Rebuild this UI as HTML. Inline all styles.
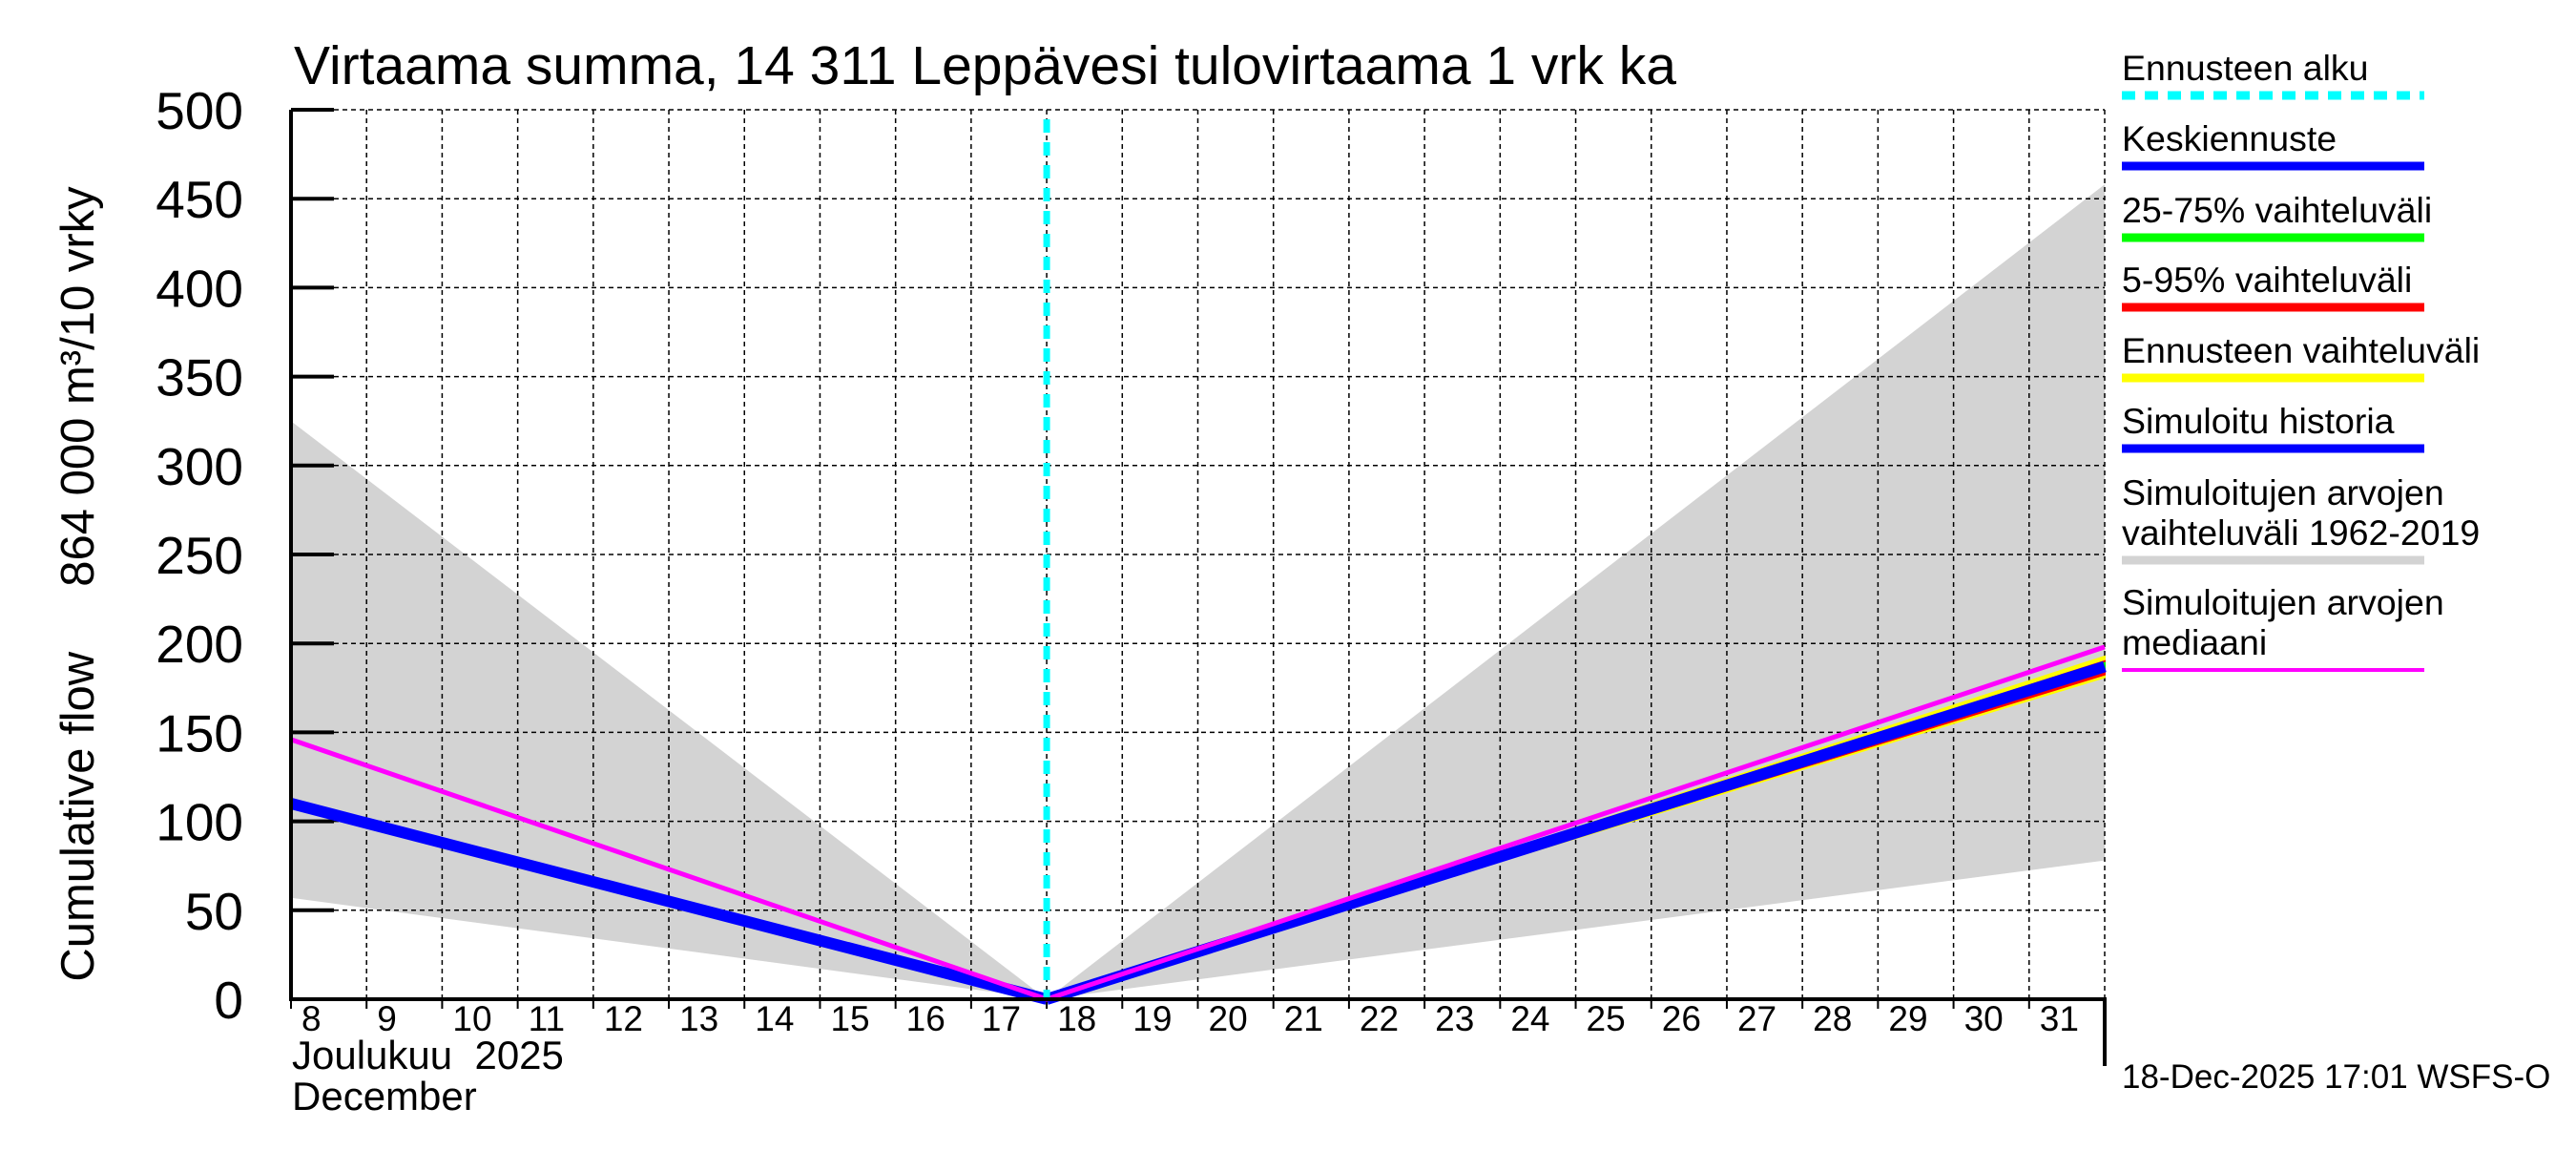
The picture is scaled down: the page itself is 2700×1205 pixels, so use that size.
<!DOCTYPE html>
<html><head><meta charset="utf-8"><style>
body{margin:0;background:#fff;}
svg text{font-family:"Liberation Sans",sans-serif;fill:#000;}
</style></head><body>
<svg id="chart" xmlns="http://www.w3.org/2000/svg" width="2700" height="1200" viewBox="0 0 2700 1200">
<rect width="2700" height="1200" fill="#fff"/>
<text x="308" y="88" font-size="57">Virtaama summa, 14 311 Leppävesi tulovirtaama 1 vrk ka</text>
<g id="plot"></g>
<text transform="translate(98,612) rotate(-90)" text-anchor="middle" font-size="49" xml:space="preserve">Cumulative flow     864 000 m³/10 vrky</text>
<text x="306" y="1120" font-size="42" xml:space="preserve">Joulukuu  2025</text>
<text x="306" y="1163" font-size="42">December</text>
<text x="2224" y="1140" font-size="35">18-Dec-2025 17:01 WSFS-O</text>
<g id="legend"></g>
</svg>
<script>
const days = [8, 18, 32];
const histDays = [8, 18];
const histValues = [110, 0];
const fcDays = [18, 32];
const fcMedian = [0, 187];
const fcP25 = [0, 185];
const fcP75 = [0, 189];
const fcP5 = [0, 182.5];
const fcP95 = [0, 190];
const fcMin = [0, 181];
const fcMax = [0, 192.6];
const simMin = [57, 0, 78];
const simMax = [325, 0, 458];
const simMedian = [146, 0, 198];
const yTicks = [0, 50, 100, 150, 200, 250, 300, 350, 400, 450, 500];
const xTickDays = [8,9,10,11,12,13,14,15,16,17,18,19,20,21,22,23,24,25,26,27,28,29,30,31];
const forecastStart = 18;

const NS = "http://www.w3.org/2000/svg";
const X0 = 305, X1 = 2206, Y0 = 1047, Y1 = 115;
const xs = d => X0 + (d - 8) / 24 * (X1 - X0);
const ys = v => Y0 - v / 500 * (Y0 - Y1);
const plot = document.getElementById('plot');
function mk(tag, attrs, parent) {
  const e = document.createElementNS(NS, tag);
  for (const k in attrs) e.setAttribute(k, attrs[k]);
  (parent || plot).appendChild(e);
  return e;
}
function pts(ds, vs) { return ds.map((d, i) => xs(d) + ',' + ys(vs[i])).join(' '); }

let band = mk('polygon', {points: pts(days, simMax) + ' ' + pts(days.slice().reverse(), simMin.slice().reverse()), fill: '#d3d3d3'});



yTicks.forEach(v => {
  const g = mk('line', {x1: X0, x2: X1, y1: ys(v), y2: ys(v), stroke: '#000', 'stroke-width': 1.5, 'stroke-dasharray': '5,4'});
  
  
  const t = mk('line', {x1: X0, x2: X0 + 45, y1: ys(v), y2: ys(v), stroke: '#000', 'stroke-width': 4});
  
  
  const l = mk('text', {x: 255, y: ys(v) + 20, 'text-anchor': 'end', 'font-size': 55});
  l.textContent = v;
  
  
});
xTickDays.concat([32]).forEach(d => {
  const g = mk('line', {x1: xs(d), x2: xs(d), y1: Y1, y2: Y0, stroke: '#000', 'stroke-width': 1.5, 'stroke-dasharray': '5,4'});
  
  
  const t = mk('line', {x1: xs(d), x2: xs(d), y1: Y0, y2: Y0 + 10, stroke: '#000', 'stroke-width': 2});
  
  
});
xTickDays.forEach(d => {
  const l = mk('text', {x: xs(d) + 11, y: 1080, 'font-size': 37});
  l.textContent = d;
  
  
});

function line(ds, vs, color, w, name) {
  const p = mk('polyline', {points: pts(ds, vs), fill: 'none', stroke: color, 'stroke-width': w, 'stroke-linejoin': 'round'});
  
  
}
function area(ds, hi, lo, color, name) {
  const p = mk('polygon', {points: pts(ds, hi) + ' ' + pts(ds.slice().reverse(), lo.slice().reverse()), fill: color, stroke: color, 'stroke-width': 2});
  
  
}
area(fcDays, fcMax, fcMin, '#ffff00', 'forecast-range');
area(fcDays, fcP95, fcP5, '#ff0000', 'range-5-95');
area(fcDays, fcP75, fcP25, '#00ff00', 'range-25-75');
line(histDays, histValues, '#0000ff', 12, 'simulated-history-line');
line(fcDays, fcMedian, '#0000ff', 12, 'forecast-median-line');
line(days, simMedian, '#ff00ff', 5, 'simulated-median-line');

const cy = mk('line', {x1: xs(forecastStart), x2: xs(forecastStart), y1: Y1 + 10, y2: Y0, stroke: '#00ffff', 'stroke-width': 7, 'stroke-dasharray': '14,10'});



const ax = mk('path', {d: `M${X0},${Y1} V${Y0} H${X1} V${Y0 + 70}`, fill: 'none', stroke: '#000', 'stroke-width': 4});



const legend = document.getElementById('legend');
const legendLabels = [['Ennusteen alku'], ['Keskiennuste'], ['25-75% vaihteluväli'], ['5-95% vaihteluväli'], ['Ennusteen vaihteluväli'], ['Simuloitu historia'], ['Simuloitujen arvojen', 'vaihteluväli 1962-2019'], ['Simuloitujen arvojen', 'mediaani']];
const legendColors = ['#00ffff', '#0000ff', '#00ff00', '#ff0000', '#ffff00', '#0000ff', '#d3d3d3', '#ff00ff'];
const legendLineY = [100, 174, 249, 322, 396, 470, 587, 702];
legendLabels.forEach((lab, i) => {
  const y = legendLineY[i];
  lab.forEach((s, j) => {
    const t = mk('text', {x: 2224, y: y - 16 - (lab.length - 1 - j) * 42, 'font-size': 37.5}, legend);
    t.textContent = s;
    
    
  });
  const attrs = {x1: 2224, x2: 2541, y1: y, y2: y, stroke: legendColors[i], 'stroke-width': i === 7 ? 4 : 9};
  if (i === 0) attrs['stroke-dasharray'] = '14,10';
  const l = mk('line', attrs, legend);
  
  
});
</script>
</body></html>
